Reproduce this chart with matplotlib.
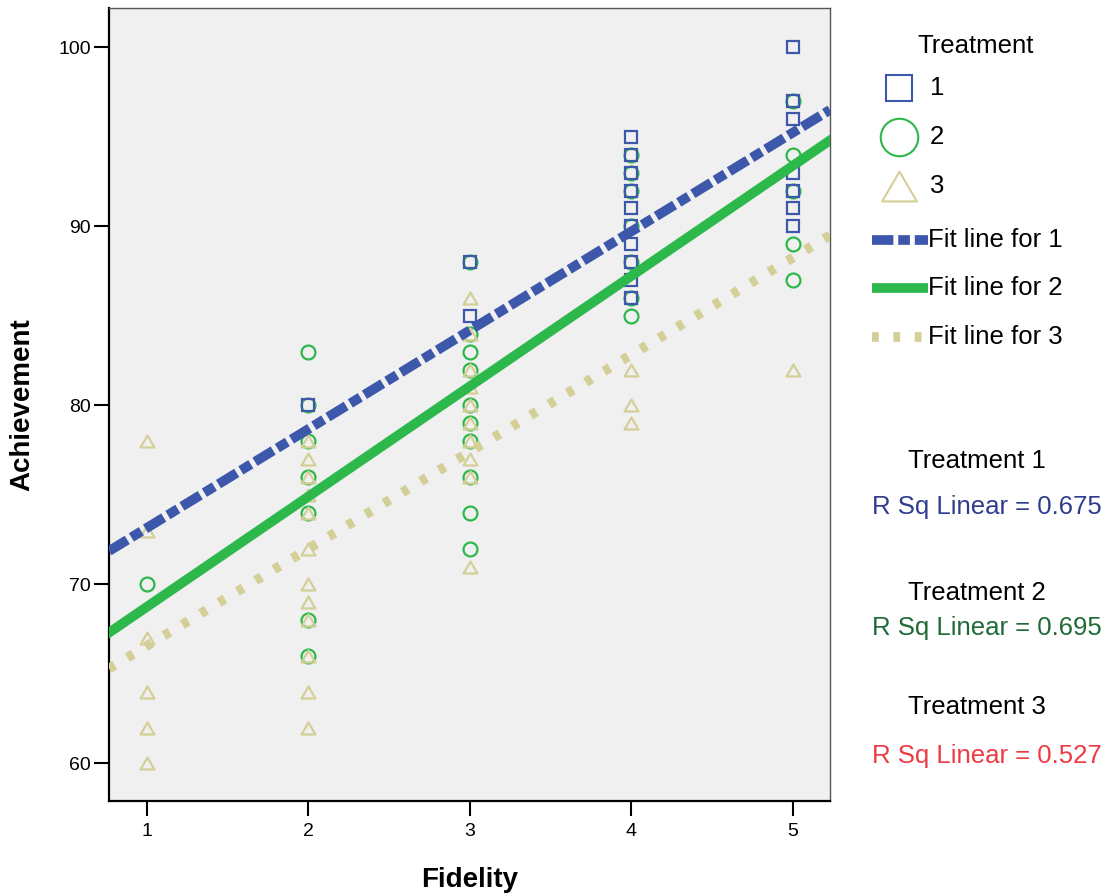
import matplotlib
matplotlib.use('Agg')
import matplotlib.pyplot as plt
from matplotlib.path import Path
import numpy as np

plt.rcParams['font.family'] = ['Liberation Sans', 'DejaVu Sans']

# DATA
fid_1 = [2, 3, 3, 4, 4, 4, 4, 4, 4, 4, 4, 4, 4, 5, 5, 5, 5, 5, 5, 5]
ach_1 = [80, 88, 85, 95, 94, 93, 92, 91, 90, 89, 88, 87, 86, 100, 97, 96, 93, 92, 91, 90]

fid_2 = [1, 2, 2, 2, 2, 2, 2, 2, 3, 3, 3, 3, 3, 3, 3, 3, 3, 3,
         4, 4, 4, 4, 4, 4, 4, 5, 5, 5, 5, 5]
ach_2 = [70, 83, 80, 78, 76, 74, 68, 66, 88, 84, 83, 82, 80, 79, 78, 76, 74, 72,
         94, 93, 92, 90, 88, 86, 85, 97, 94, 92, 89, 87]

fid_3 = [1, 1, 1, 1, 1, 1, 2, 2, 2, 2, 2, 2, 2, 2, 2, 2, 2, 2,
         3, 3, 3, 3, 3, 3, 3, 3, 3, 3, 4, 4, 4, 5]
ach_3 = [78, 73, 67, 64, 62, 60, 78, 77, 76, 75, 74, 72, 70, 69, 68, 66, 64, 62,
         86, 84, 82, 81, 80, 79, 78, 77, 76, 71, 82, 80, 79, 82]

groups = ['1', '2', '3']
fit_intercept = [67.64, 62.59, 61.15]
fit_slope = [5.52, 6.16, 5.42]
r_squared = ['0.675', '0.695', '0.527']

x_ticks = [1, 2, 3, 4, 5]
y_ticks = [60, 70, 80, 90, 100]

# STYLES
blue = '#3d57ab'
green = '#2db84b'
khaki = '#d4cf97'
rsq_colors = ['#2f3d8e', '#1f6b36', '#ee3a43']
tri = Path([(-1, -0.86), (1, -0.86), (0, 0.86), (-1, -0.86)], closed=True)
line_styles = [(0, (2.2, 0.5, 1.2, 0.5)), '-', (0, (0.7, 1.5))]

W, H = 1116, 896
fig = plt.figure(figsize=(W / 100, H / 100), dpi=100)
ax = fig.add_axes([109 / W, 1 - 801 / H, (830 - 109) / W, (801 - 8) / H])
ax.set_facecolor('#f0f0f0')

# points
ax.plot(fid_2, ach_2, 'o', ms=10, mfc='none', mec=green, mew=1.6, zorder=2)
ax.plot(fid_1, ach_1, 's', ms=8, mfc='none', mec=blue, mew=1.6, zorder=3)
ax.plot(fid_3, ach_3, marker=tri, ls='none', ms=10, mfc='none', mec=khaki, mew=1.6, zorder=4)

# fit lines
for i, c in enumerate([blue, green, khaki]):
    ax.axline((0, fit_intercept[i]), slope=fit_slope[i], color=c, lw=7,
              ls=line_styles[i], dash_capstyle='butt', zorder=5)

ax.set_xlim(0.765, 5.23)
ax.set_ylim(57.9, 102.2)
ax.set_xticks(x_ticks)
ax.set_yticks(y_ticks)
ax.tick_params(direction='out', length=11, width=1.5, labelsize=14, pad=2)
ax.tick_params(axis='x', pad=5)
for s in ['left', 'bottom']:
    ax.spines[s].set_linewidth(1.6)
for s in ['top', 'right']:
    ax.spines[s].set_linewidth(1)
    ax.spines[s].set_color('#555555')
ax.set_xlabel('Fidelity', fontsize=20, fontweight='bold', va='center')
ax.set_ylabel('Achievement', fontsize=20, fontweight='bold', va='center', ha='center')
ax.xaxis.set_label_coords(0.5, -0.0996)
ax.yaxis.set_label_coords(-0.1207, 0.5)

# legend and notes drawn in pixel space
key = fig.add_axes([0, 0, 1, 1])
key.set_xlim(0, W)
key.set_ylim(H, 0)
key.axis('off')
fs = 18.5
key.text(976, 46, 'Treatment', fontsize=fs, ha='center', va='center')
key.plot([899], [88], 's', ms=19, mfc='none', mec=blue, mew=1.5)
key.plot([899], [137], 'o', ms=27, mfc='none', mec=green, mew=1.5)
key.plot([899], [186], marker=tri, ms=25, mfc='none', mec=khaki, mew=1.5)
for yy, g in zip([88, 137, 186], groups):
    key.text(930, yy, g, fontsize=fs, ha='left', va='center')
for i, (yy, c) in enumerate(zip([240, 288, 337], [blue, green, khaki])):
    key.plot([872, 928], [yy, yy], color=c, lw=7, ls=line_styles[i],
             dash_capstyle='butt', solid_capstyle='butt')
    key.text(928, yy, 'Fit line for ' + groups[i], fontsize=fs, ha='left', va='center')

for i, (ty, ry) in enumerate([(461, 507), (593, 628), (707, 756)]):
    key.text(977, ty, 'Treatment ' + groups[i], fontsize=fs, ha='center', va='center')
    key.text(987, ry, 'R Sq Linear = ' + r_squared[i], fontsize=fs, ha='center',
             va='center', color=rsq_colors[i])

fig.savefig('out.png', dpi=100)
